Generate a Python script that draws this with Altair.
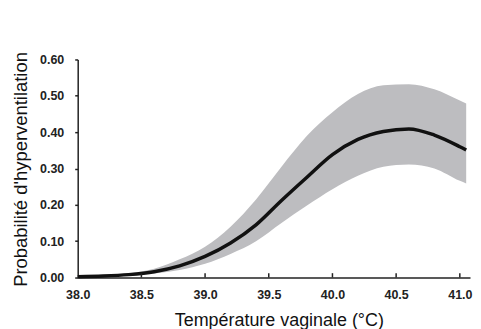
import altair as alt
import pandas as pd

# Data
temp = [38.0, 38.2, 38.4, 38.6, 38.8, 39.0, 39.2, 39.4, 39.6, 39.8,
        40.0, 40.2, 40.4, 40.6, 40.8, 41.0, 41.05]
mean = [0.002, 0.004, 0.008, 0.016, 0.032, 0.058, 0.095, 0.145, 0.212, 0.276,
        0.338, 0.380, 0.402, 0.409, 0.392, 0.360, 0.351]
lower = [0.001, 0.003, 0.006, 0.011, 0.021, 0.038, 0.065, 0.100, 0.150, 0.198,
         0.243, 0.280, 0.305, 0.311, 0.300, 0.266, 0.259]
upper = [0.002, 0.005, 0.011, 0.024, 0.050, 0.085, 0.140, 0.215, 0.305, 0.390,
         0.455, 0.505, 0.529, 0.532, 0.518, 0.487, 0.479]
x_ticks = [38.0, 38.5, 39.0, 39.5, 40.0, 40.5, 41.0]
y_ticks = [0.0, 0.1, 0.2, 0.3, 0.4, 0.5, 0.6]

df = pd.DataFrame({"temp": temp, "mean": mean, "lower": lower, "upper": upper})
ticks_df = pd.DataFrame({"t": x_ticks[1:]})

FONT = "Liberation Sans"
INK = "#222222"

xscale = alt.Scale(domain=[38.0, 41.08], nice=False, zero=False)
yscale = alt.Scale(domain=[0.0, 0.6], nice=False)

xaxis = alt.Axis(
    values=x_ticks, format=".1f", ticks=False, grid=False,
    domainColor=INK, domainWidth=1.5,
    labelFont=FONT, labelFontWeight="bold", labelFontSize=12.5, labelColor=INK,
    labelPadding=11, labelFlush=False, labelOverlap=False,
    title="Température vaginale (°C)", titleFont=FONT, titleFontSize=18,
    titleFontWeight="normal", titleColor="#111111",
    titleX=202, titleY=48, titleBaseline="alphabetic", titleAlign="center",
)
yaxis = alt.Axis(
    values=y_ticks, format=".2f", grid=False,
    tickSize=3, tickColor=INK, tickWidth=1.5,
    domainColor=INK, domainWidth=1.5,
    labelFont=FONT, labelFontWeight="bold", labelFontSize=12.5, labelColor=INK,
    labelPadding=11, labelOverlap=False,
    title="Probabilité d'hyperventilation", titleFont=FONT, titleFontSize=18.5,
    titleFontWeight="normal", titleColor="#111111",
    titleX=-51, titleY=110, titleAngle=270, titleBaseline="alphabetic",
    titleAlign="center",
)

area = alt.Chart(df).mark_area(color="#bdbdc0", opacity=1,
                               interpolate="monotone").encode(
    x=alt.X("temp:Q", scale=xscale, axis=xaxis),
    y=alt.Y("lower:Q", scale=yscale, axis=yaxis),
    y2="upper:Q",
)
line = alt.Chart(df).mark_line(color="#111111", strokeWidth=3.5,
                               interpolate="monotone").encode(
    x=alt.X("temp:Q", scale=xscale, axis=xaxis),
    y=alt.Y("mean:Q", scale=yscale, axis=yaxis),
)
rules = alt.Chart(ticks_df).mark_rule(color=INK, strokeWidth=1.5).encode(
    x=alt.X("t:Q", scale=xscale, axis=xaxis),
    y=alt.YDatum(0.0, type="quantitative", scale=yscale, axis=yaxis),
    y2=alt.Y2Datum(0.012),
)

chart = alt.layer(area, line, rules).properties(
    width=394, height=219,
    padding={"left": 70, "top": 51, "right": 3, "bottom": 51},
    autosize=alt.AutoSizeParams(type="none"),
    background="white",
).configure_view(stroke=None)

chart.save("out.html", embed_options={"renderer": "svg", "actions": False})
